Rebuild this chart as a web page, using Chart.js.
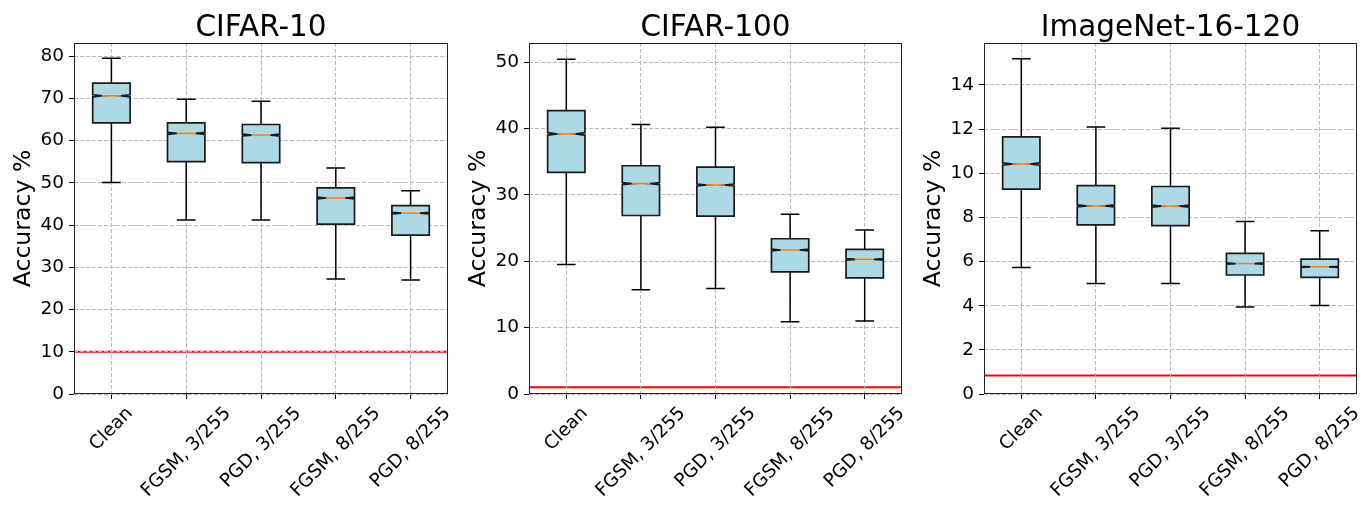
<!DOCTYPE html>
<html>
<head>
<meta charset="utf-8">
<script src="https://cdn.jsdelivr.net/npm/chart.js@4.4.1/dist/chart.umd.min.js"></script>
<style>
  html, body { margin: 0; padding: 0; background: #fff; }
  #wrap { position: relative; width: 1370px; height: 514px; }
  .panel { position: absolute; top: 0; height: 514px; }
</style>
</head>
<body>
<div id="wrap">
  <div class="panel" style="left:0px;width:455px"><canvas id="c10"></canvas></div>
  <div class="panel" style="left:455px;width:455px"><canvas id="c100"></canvas></div>
  <div class="panel" style="left:910px;width:460px"><canvas id="img"></canvas></div>
</div>
<script>
const attacks = ["Clean", "FGSM, 3/255", "PGD, 3/255", "FGSM, 8/255", "PGD, 8/255"];

// CIFAR-10
const c10Lo    = [50.1, 41.2, 41.2, 27.2, 27.0];
const c10Q1    = [64.2, 55.0, 54.8, 40.2, 37.6];
const c10Med   = [70.6, 61.7, 61.3, 46.4, 42.8];
const c10Q3    = [73.6, 64.2, 63.8, 48.8, 44.6];
const c10Hi    = [79.5, 69.8, 69.3, 53.5, 48.1];
const c10Notch = [0.25, 0.22, 0.22, 0.2, 0.18];
const c10Ticks = [0, 10, 20, 30, 40, 50, 60, 70, 80];
const c10Chance = 10;

// CIFAR-100
const c100Lo    = [19.5, 15.7, 15.9, 10.9, 11.0];
const c100Q1    = [33.4, 26.9, 26.8, 18.4, 17.5];
const c100Med   = [39.2, 31.7, 31.5, 21.7, 20.3];
const c100Q3    = [42.7, 34.4, 34.2, 23.4, 21.8];
const c100Hi    = [50.45, 40.6, 40.2, 27.1, 24.7];
const c100Notch = [0.18, 0.15, 0.15, 0.12, 0.11];
const c100Ticks = [0, 10, 20, 30, 40, 50];
const c100Chance = 1;

// ImageNet-16-120
const imgLo    = [5.73, 5.01, 5.01, 3.94, 4.01];
const imgQ1    = [9.28, 7.66, 7.63, 5.39, 5.28];
const imgMed   = [10.42, 8.52, 8.51, 5.91, 5.76];
const imgQ3    = [11.65, 9.44, 9.40, 6.37, 6.11];
const imgHi    = [15.19, 12.1, 12.04, 7.81, 7.39];
const imgNotch = [0.05, 0.045, 0.045, 0.03, 0.025];
const imgTicks = [0, 2, 4, 6, 8, 10, 12, 14];
const imgChance = 0.833;

const FONT = "'DejaVu Sans', sans-serif";

function makeChart(id, title, lo, q1, med, q3, hi, notch, ticks, yMax, chance, padRight) {
  const boxPlugin = {
    id: 'boxes',
    beforeDraw(chart) {
      // chance line sits under the grid
      const { ctx, chartArea: a, scales: { y } } = chart;
      const py = y.getPixelForValue(chance);
      ctx.save();
      ctx.strokeStyle = '#ff0000';
      ctx.lineWidth = 2;
      ctx.beginPath();
      ctx.moveTo(a.left, py);
      ctx.lineTo(a.right, py);
      ctx.stroke();
      ctx.restore();
    },
    afterDatasetsDraw(chart) {
      const { ctx, scales: { x, y } } = chart;
      ctx.save();
      for (let i = 0; i < attacks.length; i++) {
        const cx = x.getPixelForValue(i + 1);
        const hw = x.getPixelForValue(i + 1.25) - cx;
        const qw = hw / 2;
        const p = v => y.getPixelForValue(v);
        ctx.strokeStyle = '#000';
        ctx.lineWidth = 1.5;
        ctx.beginPath();
        ctx.moveTo(cx, p(q3[i])); ctx.lineTo(cx, p(hi[i]));
        ctx.moveTo(cx, p(q1[i])); ctx.lineTo(cx, p(lo[i]));
        ctx.moveTo(cx - qw, p(hi[i])); ctx.lineTo(cx + qw, p(hi[i]));
        ctx.moveTo(cx - qw, p(lo[i])); ctx.lineTo(cx + qw, p(lo[i]));
        ctx.stroke();
        const ciLo = med[i] - notch[i], ciHi = med[i] + notch[i];
        ctx.beginPath();
        ctx.moveTo(cx - hw, p(q1[i]));
        ctx.lineTo(cx + hw, p(q1[i]));
        ctx.lineTo(cx + hw, p(ciLo));
        ctx.lineTo(cx + qw, p(med[i]));
        ctx.lineTo(cx + hw, p(ciHi));
        ctx.lineTo(cx + hw, p(q3[i]));
        ctx.lineTo(cx - hw, p(q3[i]));
        ctx.lineTo(cx - hw, p(ciHi));
        ctx.lineTo(cx - qw, p(med[i]));
        ctx.lineTo(cx - hw, p(ciLo));
        ctx.closePath();
        ctx.fillStyle = '#add8e6';
        ctx.fill();
        ctx.strokeStyle = '#1a1a1a';
        ctx.lineWidth = 1.7;
        ctx.stroke();
        ctx.strokeStyle = '#ff7f0e';
        ctx.lineWidth = 1.5;
        ctx.beginPath();
        ctx.moveTo(cx - qw, p(med[i]));
        ctx.lineTo(cx + qw, p(med[i]));
        ctx.stroke();
      }
      ctx.restore();
    },
    afterDraw(chart) {
      const { ctx, chartArea: a, scales: { x } } = chart;
      ctx.save();
      ctx.strokeStyle = '#222';
      ctx.lineWidth = 1;
      ctx.strokeRect(a.left + 0.5, a.top + 0.5, a.right - a.left - 1, a.bottom - a.top - 1);
      // title
      ctx.fillStyle = '#000';
      ctx.font = '29.5px ' + FONT;
      ctx.textAlign = 'center';
      ctx.textBaseline = 'alphabetic';
      ctx.fillText(title, (a.left + a.right) / 2, 36);
      // rotated category labels, centred under each tick
      const fs = 18.5;
      ctx.font = fs + 'px ' + FONT;
      ctx.textBaseline = 'middle';
      attacks.forEach((lab, i) => {
        const cx = x.getPixelForValue(i + 1);
        const w = ctx.measureText(lab).width;
        const d = (w + fs * 1.16) * Math.SQRT1_2;
        ctx.save();
        ctx.translate(cx, a.bottom + 9 + d / 2);
        ctx.rotate(-Math.PI / 4);
        ctx.fillText(lab, 0, 0);
        ctx.restore();
      });
      ctx.restore();
    }
  };

  const gridOpts = {
    color: '#b8b8b8', lineWidth: 1,
    drawTicks: true, tickLength: 5, tickColor: '#000', tickBorderDash: [], tickWidth: 1
  };

  return new Chart(document.getElementById(id), {
    type: 'scatter',
    data: {
      datasets: [{
        data: med.map((m, i) => ({ x: i + 1, y: m })),
        pointRadius: 0,
        showLine: false
      }]
    },
    options: {
      responsive: true,
      maintainAspectRatio: false,
      animation: false,
      layout: { padding: { top: 43, bottom: 120, left: 0, right: padRight } },
      plugins: { legend: { display: false }, tooltip: { enabled: false } },
      scales: {
        x: {
          type: 'linear',
          min: 0.5,
          max: 5.5,
          afterBuildTicks: s => { s.ticks = attacks.map((_, i) => ({ value: i + 1 })); },
          afterFit: s => { s.height = 0; },
          ticks: { display: false },
          border: { display: false, dash: [4, 2] },
          grid: gridOpts
        },
        y: {
          min: 0,
          max: yMax,
          afterBuildTicks: s => { s.ticks = ticks.map(v => ({ value: v })); },
          afterFit: s => { s.width = 74; },
          ticks: { color: '#000', font: { family: FONT, size: 18.5 }, padding: 5 },
          border: { display: false, dash: [4, 2] },
          grid: gridOpts,
          title: {
            display: true, text: 'Accuracy %', color: '#000',
            font: { family: FONT, size: 23.6 }, padding: { top: 10, bottom: 0 }
          }
        }
      }
    },
    plugins: [boxPlugin]
  });
}

makeChart('c10', 'CIFAR-10', c10Lo, c10Q1, c10Med, c10Q3, c10Hi, c10Notch, c10Ticks, 83.1, c10Chance, 7);
makeChart('c100', 'CIFAR-100', c100Lo, c100Q1, c100Med, c100Q3, c100Hi, c100Notch, c100Ticks, 52.9, c100Chance, 8);
makeChart('img', 'ImageNet-16-120', imgLo, imgQ1, imgMed, imgQ3, imgHi, imgNotch, imgTicks, 15.9, imgChance, 13);
</script>
</body>
</html>
